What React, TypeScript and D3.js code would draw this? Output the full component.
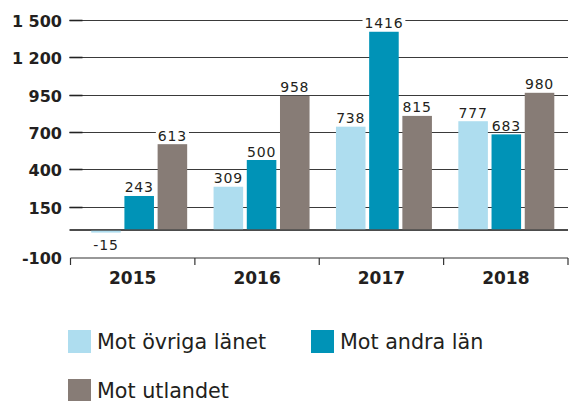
import React, { useEffect, useRef } from "react";
import * as d3 from "d3";

const years = ["2015", "2016", "2017", "2018"];
const seriesNames = ["Mot övriga länet", "Mot andra län", "Mot utlandet"];
const ovrigaLanet = [-15, 309, 738, 777];
const andraLan = [243, 500, 1416, 683];
const utlandet = [613, 958, 815, 980];
const seriesValues = [ovrigaLanet, andraLan, utlandet];
const colors = ["#AEDDEF", "#0093B7", "#877C76"];
const yTickLabels = ["-100", "150", "400", "700", "950", "1 200", "1 500"];

const W = 570;
const H = 401;

export default function App() {
  const ref = useRef<SVGSVGElement>(null);
  useEffect(() => {
    const svg = d3.select(ref.current);
    svg.selectAll("*").remove();

    const left = 70.5;
    const right = 568;
    const y = d3.scaleLinear().domain([-100, 1500]).range([244, 20]);
    const axisY = 258;
    const x0 = d3.scaleBand<string>().domain(years).range([left, right]);
    const xBars = d3.scaleBand<string>().domain(years).range([78, 567.5]);
    const pad = 13.2;
    const x1 = d3
      .scaleBand<string>()
      .domain(seriesNames)
      .range([pad, xBars.bandwidth() - pad])
      .paddingInner(0.11);

    const tickVals = d3.range(7).map((i) => -100 + (i * 1600) / 6);

    // gridlines (skip lowest)
    tickVals.slice(1).forEach((t, i) => {
      const yy = Math.round(y(t)) + 0.5;
      svg.append("line").attr("x1", left - 1).attr("x2", right).attr("y1", yy).attr("y2", yy)
        .attr("stroke", "#3a3a3a").attr("stroke-width", 1);
      svg.append("line").attr("x1", left - 1).attr("x2", left + 12).attr("y1", yy).attr("y2", yy)
        .attr("stroke", "#222").attr("stroke-width", 1.6);
      svg.append("text").attr("x", 62).attr("y", yy + 6).attr("text-anchor", "end")
        .attr("font-family", "DejaVu Sans").attr("font-weight", "bold").attr("font-size", 16)
        .attr("fill", "#231F20").text(yTickLabels[i + 1]);
    });
    svg.append("text").attr("x", 62).attr("y", axisY + 6).attr("text-anchor", "end")
      .attr("font-family", "DejaVu Sans").attr("font-weight", "bold").attr("font-size", 16)
      .attr("fill", "#231F20").text(yTickLabels[0]);

    // zero line
    svg.append("line").attr("x1", left - 1).attr("x2", right).attr("y1", y(0)).attr("y2", y(0))
      .attr("stroke", "#111").attr("stroke-width", 1.5);

    // bars
    const labelLayer: { x: number; y: number; t: string }[] = [];
    years.forEach((yr, gi) => {
      seriesNames.forEach((s, si) => {
        const v = seriesValues[si][gi];
        const bx = (xBars(yr) as number) + (x1(s) as number);
        const y0 = y(0);
        const yv = y(v);
        if (v >= 0) {
          svg.append("rect").attr("x", bx).attr("width", x1.bandwidth())
            .attr("y", yv).attr("height", y0 - 0.75 - yv)
            .attr("fill", colors[si]);
        } else {
          svg.append("rect").attr("x", bx).attr("width", x1.bandwidth())
            .attr("y", y0 + 0.75).attr("height", Math.max(1.5, yv - y0 - 0.25))
            .attr("fill", colors[si]);
        }
        labelLayer.push({
          x: bx + x1.bandwidth() / 2,
          y: v >= 0 ? yv - 3.5 : y0 + 19.5,
          t: String(v),
        });
      });
    });

    // value labels with white backgrounds
    labelLayer.forEach((l) => {
      const g = svg.append("g");
      const rect = g.append("rect").attr("fill", "#fff");
      const txt = g.append("text").attr("x", l.x).attr("y", l.y).attr("text-anchor", "middle")
        .attr("font-family", "DejaVu Sans").attr("font-size", 14).attr("letter-spacing", 0.8)
        .attr("fill", "#231F20").text(l.t);
      const bb = (txt.node() as SVGTextElement).getBBox();
      rect.attr("x", bb.x - 2).attr("y", bb.y + 2).attr("width", bb.width + 4).attr("height", bb.height - 4);
    });

    // category axis
    svg.append("line").attr("x1", left).attr("x2", right).attr("y1", axisY).attr("y2", axisY)
      .attr("stroke", "#333").attr("stroke-width", 1.2);
    [...years.map((yr) => x0(yr) as number), right].forEach((tx) => {
      svg.append("line").attr("x1", tx).attr("x2", tx).attr("y1", axisY).attr("y2", axisY + 7)
        .attr("stroke", "#333").attr("stroke-width", 1.2);
    });
    years.forEach((yr) => {
      svg.append("text").attr("x", (x0(yr) as number) + x0.bandwidth() / 2).attr("y", 283.5)
        .attr("text-anchor", "middle").attr("font-family", "DejaVu Sans").attr("font-weight", "bold")
        .attr("font-size", 17).attr("fill", "#231F20").text(yr);
    });

    // legend
    const legendPos = [
      { x: 68, y: 330 },
      { x: 311, y: 330 },
      { x: 68, y: 379 },
    ];
    seriesNames.forEach((s, i) => {
      const p = legendPos[i];
      svg.append("rect").attr("x", p.x).attr("y", p.y).attr("width", 23).attr("height", 23)
        .attr("fill", colors[i]);
      svg.append("text").attr("x", p.x + 29).attr("y", p.y + 18.5)
        .attr("font-family", "DejaVu Sans").attr("font-size", 20.7).attr("fill", "#231F20")
        .text(s);
    });
  }, []);

  return (
    <svg
      ref={ref}
      width={W}
      height={H}
      style={{ position: "absolute", left: 0, top: 0, background: "#fff" }}
    />
  );
}
